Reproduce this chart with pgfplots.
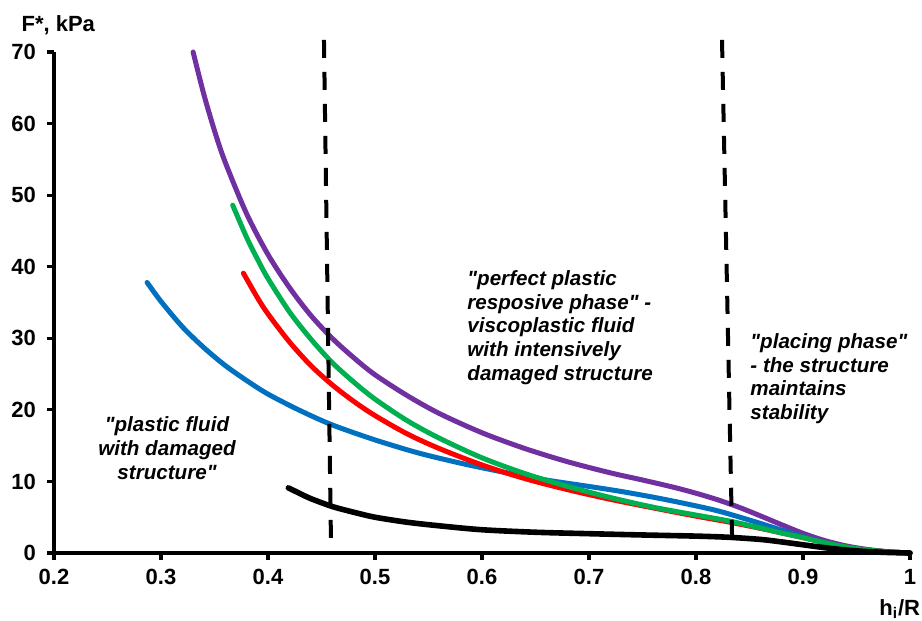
\documentclass[border=0pt]{standalone}
\usepackage{fontspec}
\setmainfont{Liberation Sans}
\usepackage{pgfplots}
\pgfplotsset{compat=1.18}
\definecolor{cpurple}{HTML}{7030A0}
\definecolor{cgreen}{HTML}{00B050}
\definecolor{cred}{HTML}{FF0000}
\definecolor{cblue}{HTML}{0070C0}
\newcommand{\q}{\textquotedbl}

\begin{document}
\begin{tikzpicture}
\begin{axis}[
  scale only axis, width=428pt, height=250.5pt,
  xmin=0.2, xmax=1, ymin=0, ymax=70,
  axis x line=bottom, axis y line=left,
  axis line style={-, line width=2pt},
  xtick={0.2,0.3,0.4,0.5,0.6,0.7,0.8,0.9,1},
  xticklabels={0.2,0.3,0.4,0.5,0.6,0.7,0.8,0.9,1},
  ytick={0,10,20,30,40,50,60,70},
  tick align=outside, major tick length=3.5pt,
  tick style={line width=1.6pt, black},
  /pgf/number format/assume math mode=true,
  ticklabel style={font=\fontsize{11}{13}\selectfont\bfseries},
  yticklabel style={xshift=-2pt},
  xticklabel style={yshift=-1pt},
  xlabel={h\textsubscript{i}/R},
  xlabel style={font=\fontsize{11}{13}\selectfont\bfseries, at={(rel axis cs:0.988,-0.112)}, anchor=center},
  ylabel={F*, kPa},
  ylabel style={font=\fontsize{11}{13}\selectfont\bfseries, rotate=-90, at={(rel axis cs:0.005,1.054)}, anchor=center},
  clip=false,
  every axis plot/.append style={smooth, tension=0.5, line width=2.5pt, line cap=round, line join=round},
]
% purple
\addplot[cpurple] coordinates {(0.33,70.0)(0.34,64.1)(0.35,59.0)(0.36,54.6)(0.38,47.4)(0.40,41.7)(0.42,37.1)(0.44,33.2)(0.46,30.0)(0.48,27.3)(0.50,24.9)(0.53,22.0)(0.56,19.5)(0.60,16.8)(0.64,14.6)(0.68,12.75)(0.72,11.2)(0.75,10.2)(0.78,9.15)(0.80,8.35)(0.82,7.45)(0.84,6.4)(0.86,5.2)(0.88,3.95)(0.90,2.75)(0.92,1.75)(0.94,1.0)(0.96,0.5)(0.98,0.18)(1,0)};
% blue
\addplot[cblue] coordinates {(0.287,37.8)(0.30,35.15)(0.32,31.6)(0.34,28.7)(0.36,26.2)(0.38,24.1)(0.40,22.2)(0.43,19.9)(0.46,17.9)(0.50,15.8)(0.54,14.0)(0.58,12.55)(0.62,11.3)(0.66,10.2)(0.70,9.3)(0.73,8.6)(0.76,7.8)(0.79,6.9)(0.82,5.9)(0.85,4.6)(0.88,3.2)(0.90,2.3)(0.92,1.5)(0.94,0.85)(0.96,0.42)(0.98,0.15)(1,0)};
% red
\addplot[cred] coordinates {(0.377,39.1)(0.39,35.7)(0.40,33.4)(0.42,29.5)(0.44,26.2)(0.46,23.5)(0.48,21.2)(0.50,19.2)(0.53,16.65)(0.56,14.6)(0.60,12.3)(0.64,10.4)(0.68,8.85)(0.72,7.5)(0.76,6.3)(0.80,5.15)(0.83,4.35)(0.86,3.45)(0.88,2.8)(0.90,2.15)(0.92,1.45)(0.94,0.85)(0.96,0.42)(0.98,0.15)(1,0)};
% green
\addplot[cgreen] coordinates {(0.367,48.6)(0.38,44.1)(0.39,41.1)(0.40,38.35)(0.42,33.7)(0.44,29.9)(0.46,26.6)(0.48,23.9)(0.50,21.5)(0.53,18.5)(0.56,16.05)(0.60,13.3)(0.64,11.1)(0.68,9.3)(0.72,7.75)(0.76,6.4)(0.80,5.3)(0.83,4.5)(0.86,3.5)(0.88,2.8)(0.90,2.15)(0.92,1.45)(0.94,0.85)(0.96,0.42)(0.98,0.15)(1,0)};
% black
\addplot[black, line width=2.8pt] coordinates {(0.419,9.1)(0.43,8.3)(0.44,7.6)(0.46,6.5)(0.48,5.7)(0.50,5.0)(0.53,4.3)(0.56,3.8)(0.60,3.25)(0.65,2.9)(0.70,2.7)(0.75,2.52)(0.80,2.36)(0.83,2.2)(0.86,1.9)(0.88,1.55)(0.90,1.15)(0.92,0.75)(0.94,0.42)(0.96,0.2)(0.98,0.07)(1,0)};
% phase boundaries
\addplot[black, no marks, sharp plot, line width=2pt, line cap=butt, dash pattern=on 9pt off 7pt] coordinates {(0.4523,71.7)(0.459,0)};
\addplot[black, no marks, sharp plot, line width=2pt, line cap=butt, dash pattern=on 9pt off 7pt] coordinates {(0.8243,71.7)(0.834,0)};
\node[align=center, inner sep=0, font=\fontsize{10.3}{12}\selectfont\bfseries\itshape] at (axis cs:0.3056,14.7) {\q plastic fluid\\with damaged\\structure\q};
\node[align=left, anchor=north west, inner sep=0, font=\fontsize{10.3}{11.8}\selectfont\bfseries\itshape] at (axis cs:0.586,39.5) {\q perfect plastic\\resposive phase\q{} -\\viscoplastic fluid\\with intensively\\damaged structure};
\node[align=left, anchor=north west, inner sep=0, font=\fontsize{10.3}{11.8}\selectfont\bfseries\itshape] at (axis cs:0.8505,30.7) {\q placing phase\q\\- the structure\\maintains\\stability};
\coordinate (bbll) at (rel axis cs:-0.0631,-0.1357);
\coordinate (bbur) at (rel axis cs:1.014,1.1038);
\end{axis}
\pgfresetboundingbox
\path[use as bounding box] (bbll) rectangle (bbur);
\end{tikzpicture}
\end{document}
